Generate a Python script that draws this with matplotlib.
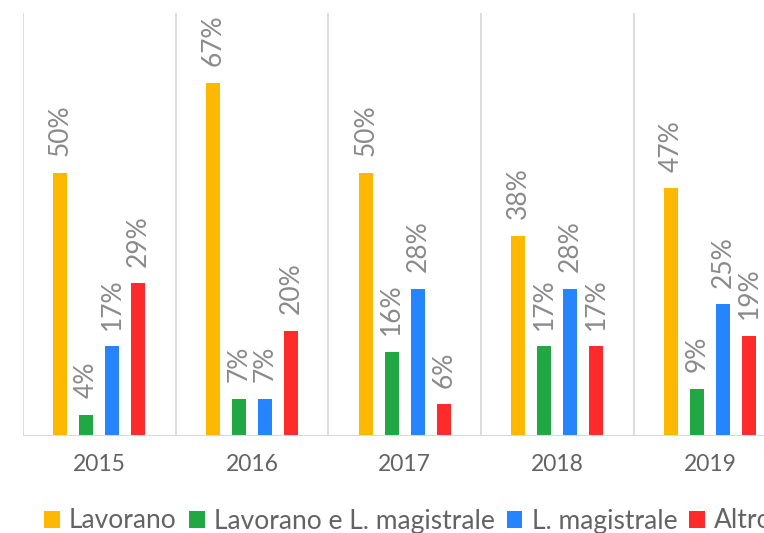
import matplotlib
matplotlib.use("Agg")
import matplotlib.pyplot as plt
import numpy as np

plt.rcParams['font.family'] = ['Lato', 'DejaVu Sans']

years = ["2015", "2016", "2017", "2018", "2019"]
series_names = ["Lavorano", "Lavorano e L. magistrale", "L. magistrale", "Altro"]
lavorano = [50, 67, 50, 38, 47]
lavorano_magistrale = [4, 7, 16, 17, 9]
magistrale = [17, 7, 28, 28, 25]
altro = [29, 20, 6, 17, 19]
colors = ["#FFB800", "#21A845", "#2684FF", "#FF2B2B"]

series = [lavorano, lavorano_magistrale, magistrale, altro]

fig = plt.figure(figsize=(7.64, 5.33), dpi=100)
ax = fig.add_axes([23/764, 97/533, 763.5/764, 423/533])

x = np.arange(len(years))
offsets = [-0.2554, -0.0852, 0.0852, 0.2554]
width = 0.092

for vals, off, c, name in zip(series, offsets, colors, series_names):
    bars = ax.bar(x + off, vals, width=width, color=c, label=name, zorder=3)
    for b, v in zip(bars, vals):
        ax.annotate(f"{v}%", (b.get_x() + b.get_width()/2, b.get_height()),
                    xytext=(0, 12), textcoords="offset points",
                    rotation=90, ha="center", va="bottom",
                    fontsize=19, color="#8A8A8A")

ax.set_xlim(-0.5, 4.5)
ax.set_ylim(0, 80.3)
for xv in np.arange(-0.5, 5.0, 1.0):
    ax.axvline(xv, color="#D9D9D9", lw=1.3, zorder=1)
ax.axhline(0, color="#D9D9D9", lw=2.2, zorder=4)

for s in ax.spines.values():
    s.set_visible(False)
ax.set_yticks([])
ax.set_xticks(x)
ax.set_xticklabels(years, fontsize=16.5, color="#636363")
ax.tick_params(axis="x", length=0, pad=13)

leg = fig.legend(loc="center left", bbox_to_anchor=(44/764, 12/533),
                 ncol=4, frameon=False, labelcolor="#636363",
                 handlelength=0.6, handleheight=0.6, handletextpad=0.35,
                 columnspacing=0.45, borderaxespad=0, borderpad=0,
                 prop={'size': 19})

fig.savefig("out.png", dpi=100)
